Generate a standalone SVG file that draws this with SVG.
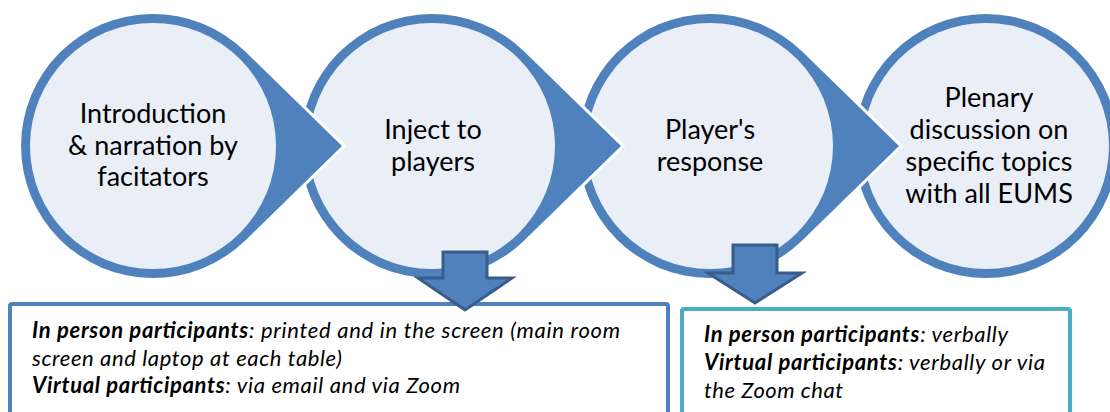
<svg xmlns="http://www.w3.org/2000/svg" width="1110" height="412" viewBox="0 0 1110 412">
  <style>
    .drop { fill: #4f81bd; stroke: #ffffff; stroke-width: 6; stroke-linejoin: miter; paint-order: stroke; }
    .ring { fill: #4f81bd; }
    .face { fill: #eaeff7; }
    .label { font-family: Lato, "Liberation Sans", sans-serif; font-size: 27px; fill: #000000; text-anchor: middle; }
    .note { font-family: Lato, "Liberation Sans", sans-serif; font-size: 22px; font-style: italic; fill: #000000; }
    .note .b { font-weight: bold; }
    .box1 { fill: #ffffff; stroke: #4f81bd; stroke-width: 4; }
    .box2 { fill: #ffffff; stroke: #4bacc6; stroke-width: 4; }
    .down { fill: #4f81bd; stroke: #385d8a; stroke-width: 3; stroke-linejoin: miter; }
  </style>

  <!-- process steps, last first so each pointer overlaps the following step -->
  <g id="step4">
    <circle class="ring" cx="986" cy="146" r="132"/>
    <circle class="face" cx="986" cy="146" r="123"/>
    <text class="label" x="989" y="107">Plenary</text>
    <text class="label" x="989" y="139">discussion on</text>
    <text class="label" x="989" y="171">specific topics</text>
    <text class="label" x="989" y="203">with all EUMS</text>
  </g>

  <g id="step3">
    <path class="drop" d="M899 146 L802.2 51.5 A132 132 0 1 0 802.2 240.5 Z"/>
    <circle class="face" cx="710" cy="146" r="123"/>
    <text class="label" x="710" y="139">Player's</text>
    <text class="label" x="710" y="171">response</text>
  </g>

  <g id="step2">
    <path class="drop" d="M621 146 L524.2 51.5 A132 132 0 1 0 524.2 240.5 Z"/>
    <circle class="face" cx="432" cy="146" r="123"/>
    <text class="label" x="433" y="139">Inject to</text>
    <text class="label" x="433" y="171">players</text>
  </g>

  <g id="step1">
    <path class="drop" d="M342 146 L245.2 51.5 A132 132 0 1 0 245.2 240.5 Z"/>
    <circle class="face" cx="153" cy="146" r="123"/>
    <text class="label" x="153" y="123">Introduction</text>
    <text class="label" x="153" y="155">&amp; narration by</text>
    <text class="label" x="153" y="186">facitators</text>
  </g>

  <!-- detail boxes -->
  <g id="inject-detail">
    <rect class="box1" x="10" y="304" width="658" height="130" rx="2"/>
    <text class="note" x="32" y="338" textLength="588" lengthAdjust="spacing"><tspan class="b">In person participants</tspan>: printed and in the screen (main room</text>
    <text class="note" x="32" y="366" textLength="310" lengthAdjust="spacing">screen and laptop at each table)</text>
    <text class="note" x="32" y="393" textLength="428" lengthAdjust="spacing"><tspan class="b">Virtual participants</tspan>: via email and via Zoom</text>
  </g>

  <g id="response-detail">
    <rect class="box2" x="682" y="309" width="388" height="130" rx="2"/>
    <text class="note" x="704" y="342" textLength="304" lengthAdjust="spacing"><tspan class="b">In person participants</tspan>: verbally</text>
    <text class="note" x="704" y="370" textLength="341" lengthAdjust="spacing"><tspan class="b">Virtual participants</tspan>: verbally or via</text>
    <text class="note" x="704" y="398" textLength="139" lengthAdjust="spacing">the Zoom chat</text>
  </g>

  <!-- connectors: down arrows from steps to their detail boxes -->
  <g id="connectors">
    <path class="down" d="M443 252 H487 V278 H512 L465 310 L418 278 H443 Z"/>
    <path class="down" d="M733 245 H777 V273 H802 L755 303 L708 273 H733 Z"/>
  </g>
</svg>
